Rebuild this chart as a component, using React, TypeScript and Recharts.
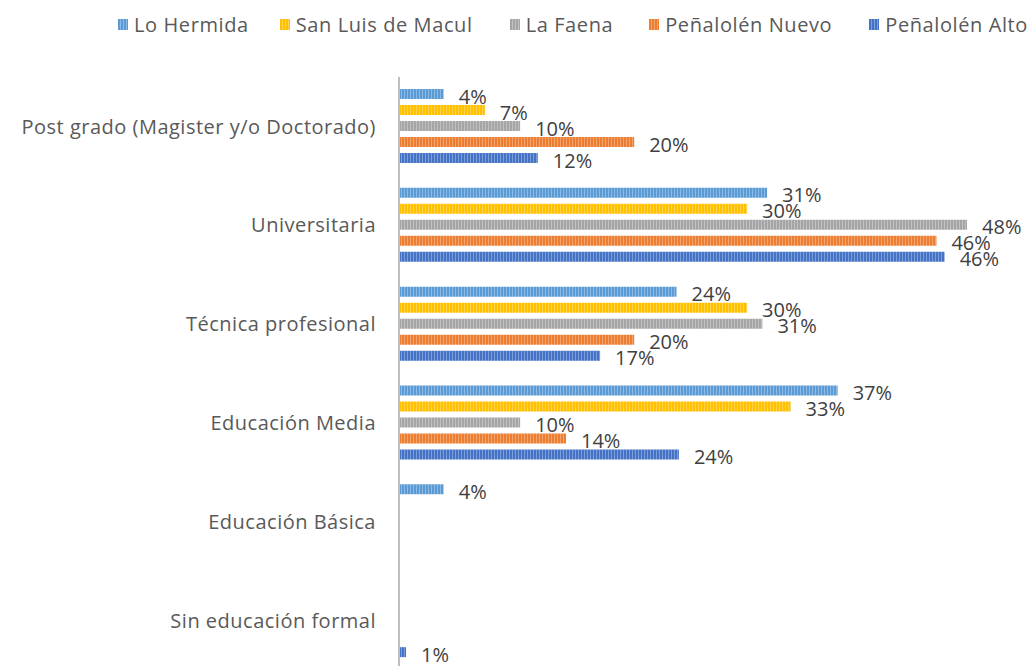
import { BarChart, Bar, XAxis, YAxis, Legend, LabelList } from "recharts"

const categories = [
  "Post grado (Magister y/o Doctorado)",
  "Universitaria",
  "Técnica profesional",
  "Educación Media",
  "Educación Básica",
  "Sin educación formal",
]

// porcentajes por sector (null = sin barra)
const loHermida = [3.8, 31.3, 23.6, 37.3, 3.8, null]
const sanLuisDeMacul = [7.3, 29.6, 29.6, 33.3, null, null]
const laFaena = [10.3, 48.3, 30.9, 10.3, null, null]
const penalolenNuevo = [20.0, 45.7, 20.0, 14.2, null, null]
const penalolenAlto = [11.8, 46.4, 17.1, 23.8, null, 0.6]

const series = [
  { key: "lh", name: "Lo Hermida", color: "#5B9BD5", values: loHermida },
  { key: "sl", name: "San Luis de Macul", color: "#FFC000", values: sanLuisDeMacul },
  { key: "lf", name: "La Faena", color: "#A5A5A5", values: laFaena },
  { key: "pn", name: "Peñalolén Nuevo", color: "#ED7D31", values: penalolenNuevo },
  { key: "pa", name: "Peñalolén Alto", color: "#4472C4", values: penalolenAlto },
]

const data = categories.map((name, i) => {
  const row: Record<string, string | number | null> = { name }
  series.forEach((s) => {
    row[s.key] = s.values[i]
  })
  return row
})

const FONT = "'Open Sans', 'Liberation Sans', sans-serif"

const renderLabel = (props: any) => {
  const { x, y, width, height, value } = props
  if (value == null || value === 0) return null
  return (
    <text
      x={x + width + 15}
      y={y + height / 2 + 2}
      dominantBaseline="central"
      fill="#404040"
      fontSize={20}
      fontFamily={FONT}
    >
      {Math.round(value)}%
    </text>
  )
}

const legendGaps = [31, 37, 36, 37, 0]

const renderLegend = () => (
  <div
    style={{
      display: "flex",
      height: 67,
      paddingLeft: 118,
      fontFamily: FONT,
      fontSize: 20,
      letterSpacing: 0.6,
      color: "#595959",
      whiteSpace: "nowrap",
    }}
  >
    {series.map((s, i) => (
      <div key={s.key} style={{ display: "flex", alignItems: "center", height: 28, marginRight: legendGaps[i] }}>
        <svg width={10} height={11} style={{ marginRight: 6 }}>
          <rect width={10} height={11} fill={`url(#stripe-${s.key})`} />
        </svg>
        <span>{s.name}</span>
      </div>
    ))}
  </div>
)

export default function App() {
  return (
    <div style={{ position: "absolute", left: 0, top: 0, width: 1033, height: 666, overflow: "hidden", background: "#fff" }}>
      <svg width={0} height={0} style={{ position: "absolute" }}>
        <defs>
          {series.map((s) => (
            <pattern key={s.key} id={`stripe-${s.key}`} patternUnits="userSpaceOnUse" width={3} height={3}>
              <rect width={3} height={3} fill={s.color} />
              <rect x={2} width={1} height={3} fill="#ffffff" opacity={0.3} />
            </pattern>
          ))}
        </defs>
      </svg>
      <BarChart
        width={1033}
        height={670}
        data={data}
        layout="vertical"
        margin={{ top: 10, right: 46, bottom: 0, left: 0 }}
        barSize={10}
        barGap={6}
      >
        <XAxis type="number" domain={[0, 50]} hide />
        <YAxis
          type="category"
          dataKey="name"
          width={399}
          axisLine={{ stroke: "#BFBFBF", strokeWidth: 2 }}
          tickLine={false}
          tickSize={0}
          tickMargin={23}
          tick={{ fill: "#595959", fontSize: 20, fontFamily: FONT, letterSpacing: 0.5 }}
          interval={0}
        />
        <Legend
          verticalAlign="top"
          align="left"
          content={renderLegend}
          wrapperStyle={{ width: 1033, left: 0 }}
        />
        {series.map((s) => (
          <Bar key={s.key} dataKey={s.key} name={s.name} fill={`url(#stripe-${s.key})`} isAnimationActive={false}>
            <LabelList dataKey={s.key} content={renderLabel} />
          </Bar>
        ))}
      </BarChart>
    </div>
  )
}
